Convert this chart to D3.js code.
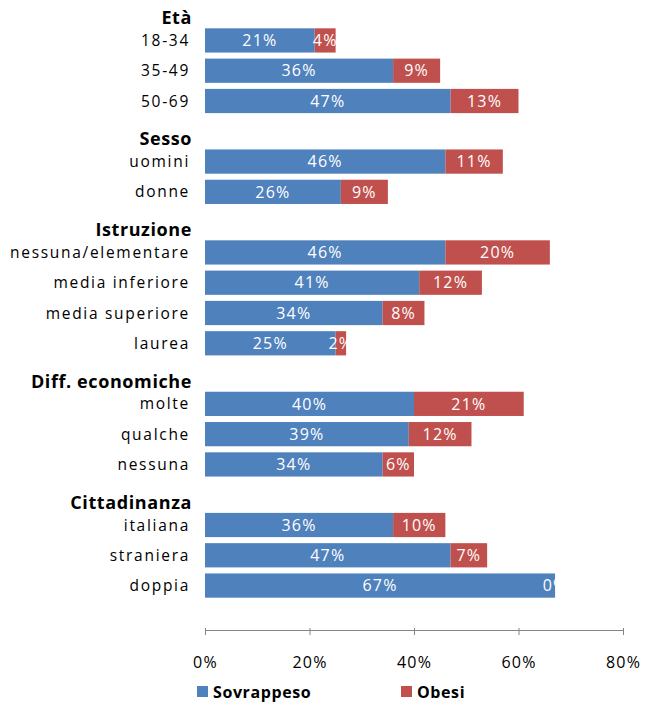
<!DOCTYPE html>
<html>
<head>
<meta charset="utf-8">
<script src="https://cdn.jsdelivr.net/npm/d3@7"></script>
<style>
  body { margin: 0; background: #fff; }
  svg { display: block; font-family: 'Open Sans', sans-serif; }
</style>
</head>
<body>
<svg id="chart" width="658" height="702"></svg>
<script>
// groups and their categories
const groups = ['Età', 'Sesso', 'Istruzione', 'Diff. economiche', 'Cittadinanza'];
const categories = [
    '18-34', '35-49', '50-69',
    'uomini', 'donne',
    'nessuna/elementare', 'media inferiore', 'media superiore', 'laurea',
    'molte', 'qualche', 'nessuna',
    'italiana', 'straniera', 'doppia'
];
const groupOf = [0, 0, 0, 1, 1, 2, 2, 2, 2, 3, 3, 3, 4, 4, 4];
const sovrappeso = [21, 36, 47, 46, 26, 46, 41, 34, 25, 40, 39, 34, 36, 47, 67];
const obesi = [4, 9, 13, 11, 9, 20, 12, 8, 2, 21, 12, 6, 10, 7, 0];
const seriesNames = ['Sovrappeso', 'Obesi'];
const colors = ['#4F81BD', '#C0504D'];
const xTicks = [0, 20, 40, 60, 80];

// one row per header + one per category, plus a trailing empty row (as in Excel)
const rows = [];
categories.forEach((c, i) => {
    if (i === 0 || groupOf[i] !== groupOf[i - 1]) {
        rows.push({ key: 'h' + groupOf[i], header: groups[groupOf[i]] });
    }
    rows.push({ key: 'c' + i, label: c, s: sovrappeso[i], o: obesi[i] });
});
rows.push({ key: 'end' });

const svg = d3.select('#chart');
const x0 = 205, x1 = 623, axisY = 630;

const x = d3.scaleLinear().domain([0, 80]).range([x0, x1]);
const y = d3.scaleBand()
    .domain(rows.map(r => r.key))
    .range([-5, 631])
    .paddingInner(0.2)
    .paddingOuter(0.1);

const bars = rows.filter(r => r.label);
const headers = rows.filter(r => r.header);

// stacked segments
const stack = d3.stack().keys(['s', 'o'])(bars);
stack.forEach((layer, li) => {
    svg.append('g')
        .attr('fill', colors[li])
        .selectAll('rect')
        .data(layer)
        .enter().append('rect')
        .attr('x', d => x(d[0]))
        .attr('y', d => y(d.data.key))
        .attr('width', d => x(d[1]) - x(d[0]))
        .attr('height', y.bandwidth());
});

// value labels (white, centered in each segment)
stack.forEach(layer => {
    svg.append('g')
        .selectAll('text')
        .data(layer)
        .enter().append('text')
        .attr('x', d => (x(d[0]) + x(d[1])) / 2)
        .attr('y', d => y(d.data.key) + y.bandwidth() / 2)
        .attr('dy', '0.36em')
        .attr('text-anchor', 'middle')
        .style('font-size', '16px')
        .style('letter-spacing', '1.2px')
        .style('fill', '#fff')
        .text(d => (d[1] - d[0]) + '%');
});

// category labels
svg.append('g')
    .selectAll('text')
    .data(bars)
    .enter().append('text')
    .attr('x', 190)
    .attr('y', d => y(d.key) + y.bandwidth() / 2)
    .attr('dy', '0.36em')
    .attr('text-anchor', 'end')
    .style('font-size', '15.5px')
    .style('letter-spacing', '1.7px')
    .style('fill', '#000')
    .text(d => d.label);

// group headers
svg.append('g')
    .selectAll('text')
    .data(headers)
    .enter().append('text')
    .attr('x', 192)
    .attr('y', d => y(d.key) + y.bandwidth() / 2 + 14)
    .attr('text-anchor', 'end')
    .style('font-size', '18px')
    .style('font-weight', 'bold')
    .style('letter-spacing', '0.6px')
    .style('fill', '#000')
    .text(d => d.header);

// x axis
const axis = svg.append('g')
    .attr('transform', `translate(0,${axisY})`)
    .call(d3.axisBottom(x).tickValues(xTicks).tickSize(5).tickSizeOuter(0).tickFormat(d => d + '%'));
axis.select('.domain').attr('stroke', '#868686');
axis.selectAll('.tick line').attr('stroke', '#868686').attr('y1', -2);
axis.selectAll('.tick text')
    .attr('y', 27)
    .style('font-family', "'Open Sans', sans-serif")
    .style('font-size', '16px')
    .style('letter-spacing', '1.2px')
    .style('fill', '#000');

// legend
const legend = svg.append('g')
    .selectAll('g')
    .data(seriesNames)
    .enter().append('g')
    .attr('transform', (d, i) => `translate(${[197, 401][i]},686)`);
legend.append('rect')
    .attr('width', 11)
    .attr('height', 11)
    .attr('fill', (d, i) => colors[i]);
legend.append('text')
    .attr('x', 16)
    .attr('y', 6)
    .attr('dy', '0.36em')
    .style('font-size', '16px')
    .style('font-weight', 'bold')
    .style('letter-spacing', '0.6px')
    .style('fill', '#000')
    .text(d => d);
</script>
</body>
</html>
